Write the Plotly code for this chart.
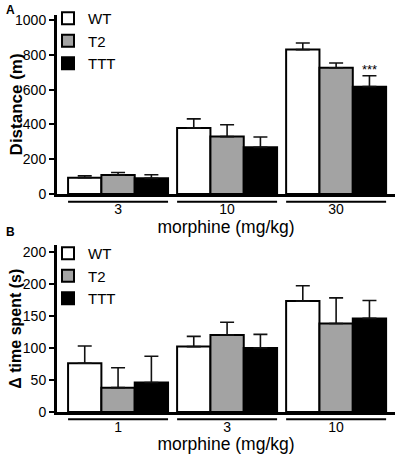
import plotly.graph_objects as go

# ---------------- data ----------------
groups = ["WT", "T2", "TTT"]
colors = ["#ffffff", "#a3a3a3", "#000000"]

doses_a = ["3", "10", "30"]
dist_wt = [94, 380, 830]
dist_wt_err = [11, 52, 38]
dist_t2 = [109, 330, 726]
dist_t2_err = [15, 68, 27]
dist_ttt = [90, 268, 617]
dist_ttt_err = [21, 60, 63]

doses_b = ["1", "3", "10"]
time_wt = [76, 102, 173]
time_wt_err = [27, 16, 24]
time_t2 = [38, 120, 138]
time_t2_err = [31, 20, 40]
time_ttt = [46, 100, 146]
time_ttt_err = [41, 21, 28]

yticks_a = [0, 200, 400, 600, 800, 1000]
yticks_b = [0, 50, 100, 150, 200, 250]
yticktext_b = ["0", "50", "100", "150", "200", "200"]

FONT = "Liberation Sans, Arial, Helvetica, sans-serif"
W, H = 397, 454
BARGAP = 0.083

fig = go.Figure()

panel_a = [dist_wt, dist_t2, dist_ttt]
panel_a_err = [dist_wt_err, dist_t2_err, dist_ttt_err]
panel_b = [time_wt, time_t2, time_ttt]
panel_b_err = [time_wt_err, time_t2_err, time_ttt_err]

for name, col, vals, errs in zip(groups, colors, panel_a, panel_a_err):
    fig.add_trace(go.Bar(
        x=list(range(len(doses_a))), y=vals, name=name,
        marker=dict(color=col, line=dict(color="black", width=2)),
        error_y=dict(type="data", symmetric=False, array=errs,
                     arrayminus=[0] * len(errs), color="#111111",
                     thickness=1.6, width=7),
        xaxis="x", yaxis="y", legend="legend", offsetgroup=name,
    ))

for name, col, vals, errs in zip(groups, colors, panel_b, panel_b_err):
    fig.add_trace(go.Bar(
        x=list(range(len(doses_b))), y=vals, name=name,
        marker=dict(color=col, line=dict(color="black", width=2)),
        error_y=dict(type="data", symmetric=False, array=errs,
                     arrayminus=[0] * len(errs), color="#111111",
                     thickness=1.6, width=7),
        xaxis="x2", yaxis="y2", legend="legend2", offsetgroup=name,
    ))

def px2py(p):
    return 1 - p / H

dom_a = [px2py(194), px2py(14.8)]
dom_b = [px2py(412), px2py(245.3)]
dom_x = [57 / W, 395 / W]

axis_common = dict(showline=True, linecolor="black", linewidth=3,
                   showgrid=False, zeroline=False, mirror=False,
                   automargin=False)

tickfont = dict(family=FONT, size=14, color="black")
xtitlefont = dict(family=FONT, size=17.5, color="black")

fig.update_layout(
    template="none",
    width=W, height=H, autosize=False,
    margin=dict(l=0, r=0, t=0, b=0, pad=0),
    paper_bgcolor="white", plot_bgcolor="white",
    barmode="group", bargap=BARGAP, bargroupgap=0,
    font=dict(family=FONT, color="black"),
    xaxis=dict(domain=dom_x, anchor="y", range=[-0.56, 2.54],
               tickvals=list(range(len(doses_a))), ticktext=doses_a,
               ticks="", tickfont=tickfont,
               title=dict(text="morphine (mg/kg)", font=xtitlefont, standoff=1),
               **axis_common),
    yaxis=dict(domain=dom_a, anchor="x", range=[0, 1030],
               tickmode="array", tickvals=yticks_a,
               ticks="outside", ticklen=5, tickwidth=2,
               tickcolor="black", tickfont=tickfont, **axis_common),
    xaxis2=dict(domain=dom_x, anchor="y2", range=[-0.56, 2.54],
                tickvals=list(range(len(doses_b))), ticktext=doses_b,
                ticks="", tickfont=tickfont,
                title=dict(text="morphine (mg/kg)", font=xtitlefont, standoff=1),
                **axis_common),
    yaxis2=dict(domain=dom_b, anchor="x2", range=[0, 260],
                tickmode="array", tickvals=yticks_b, ticktext=yticktext_b,
                ticks="outside", ticklen=5, tickwidth=2,
                tickcolor="black", tickfont=tickfont, **axis_common),
    legend=dict(x=48 / W, y=px2py(2), xanchor="left", yanchor="top",
                font=dict(family=FONT, size=15, color="black"),
                bgcolor="rgba(0,0,0,0)", borderwidth=0, tracegroupgap=0),
    legend2=dict(x=48 / W, y=px2py(237), xanchor="left", yanchor="top",
                 font=dict(family=FONT, size=15, color="black"),
                 bgcolor="rgba(0,0,0,0)", borderwidth=0, tracegroupgap=0),
    showlegend=True,
)

# group underlines below the x axes
half = (1 - BARGAP) / 2
shapes = []
for i in range(len(doses_a)):
    shapes.append(dict(type="line", xref="x", yref="y domain",
                       x0=i - half, x1=i + half, y0=-0.043, y1=-0.043,
                       line=dict(color="black", width=2)))
for i in range(len(doses_b)):
    shapes.append(dict(type="line", xref="x2", yref="y2 domain",
                       x0=i - half, x1=i + half, y0=-0.043, y1=-0.043,
                       line=dict(color="black", width=2)))
fig.update_layout(shapes=shapes)

bar_w = (1 - BARGAP) / 3
annotations = [
    dict(text="***", x=2 + bar_w, y=dist_ttt[2] + dist_ttt_err[2],
         xref="x", yref="y", showarrow=False, yanchor="bottom",
         yshift=-3, font=dict(family=FONT, size=13, color="black")),
    dict(text="<b>Distance (m)</b>", textangle=-90, x=16 / W,
         y=(dom_a[0] + dom_a[1]) / 2, xref="paper", yref="paper",
         showarrow=False, xanchor="center", yanchor="middle",
         font=dict(family=FONT, size=17, color="black")),
    dict(text="<b>\u0394 time spent (s)</b>", textangle=-90, x=16 / W,
         y=(dom_b[0] + dom_b[1]) / 2, xref="paper", yref="paper",
         showarrow=False, xanchor="center", yanchor="middle",
         font=dict(family=FONT, size=16, color="black")),
    dict(text="<b>A</b>", x=4 / W, y=px2py(1), xref="paper", yref="paper",
         showarrow=False, xanchor="left", yanchor="top",
         font=dict(family=FONT, size=12, color="black")),
    dict(text="<b>B</b>", x=4 / W, y=px2py(223), xref="paper", yref="paper",
         showarrow=False, xanchor="left", yanchor="top",
         font=dict(family=FONT, size=12, color="black")),
]
fig.update_layout(annotations=annotations)

fig.write_html("out.html", config={"displayModeBar": False},
               post_script="document.body.style.margin='0';"
                           "document.body.style.padding='0';")
